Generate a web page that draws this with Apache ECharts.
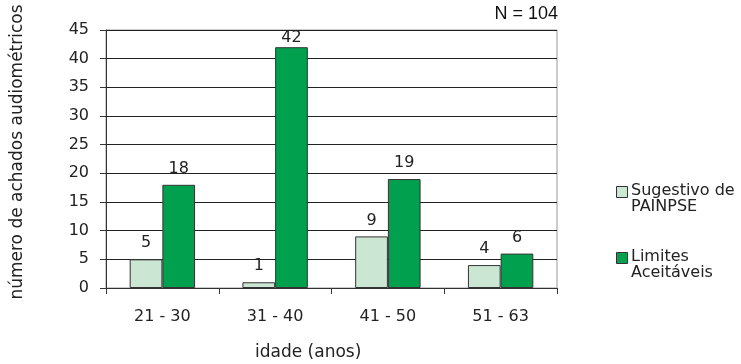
<!DOCTYPE html>
<html>
<head>
<meta charset="utf-8">
<script src="https://cdn.jsdelivr.net/npm/echarts@6/dist/echarts.min.js"></script>
<style>
  html, body { margin: 0; padding: 0; background: #fff; }
  #chart { width: 741px; height: 364px; }
</style>
</head>
<body>
<div id="chart"></div>
<script>
// Age groups and counts of audiometric findings per group
const faixas = ['21 - 30', '31 - 40', '41 - 50', '51 - 63'];
const sugestivo = [5, 1, 9, 4];
const aceitaveis = [18, 42, 19, 6];
const yTicks = [0, 5, 10, 15, 20, 25, 30, 35, 40, 45];
const serieNomes = ['Sugestivo de\nPAINPSE', 'Limites\nAceitáveis'];
const cores = ['#cce6d4', '#00a04e'];

const fonte = '"DejaVu Sans", Verdana, sans-serif';
const yMax = yTicks[yTicks.length - 1];
const chart = echarts.init(document.getElementById('chart'), null, { renderer: 'canvas' });

// Labels near the top of the plot sit closer to their bar so they stay inside
const barSerie = (i, data) => ({
  name: serieNomes[i],
  type: 'bar',
  data: data.map(v => (v > yMax - 5 ? { value: v, label: { distance: 1 } } : v)),
  barGap: '0%',
  barCategoryGap: '42%',
  itemStyle: { color: cores[i], borderColor: '#333', borderWidth: 1 },
  label: {
    show: true, position: 'top', distance: 8,
    fontFamily: fonte, fontSize: 16, color: '#222'
  }
});

// Legend entries: square swatch beside two-line text
const legendGraphics = [];
[[186, 0], [252, 1]].forEach(([y, i]) => {
  legendGraphics.push({
    type: 'rect', left: 616, top: y,
    shape: { width: 11, height: 11 },
    style: { fill: cores[i], stroke: '#333', lineWidth: 1 }
  });
  legendGraphics.push({
    type: 'text', left: 631, top: y - 3,
    style: { text: serieNomes[i], font: '16px ' + fonte, fill: '#222', lineHeight: 16 }
  });
});

chart.setOption({
  animation: false,
  backgroundColor: '#fff',
  grid: {
    left: 106, right: 184, top: 30, bottom: 76,
    show: true, borderColor: '#999', borderWidth: 1
  },
  xAxis: {
    type: 'category',
    data: faixas,
    axisLine: { lineStyle: { color: '#333', width: 1 } },
    axisTick: { show: true, length: 6, lineStyle: { color: '#333' } },
    axisLabel: { margin: 21, fontFamily: fonte, fontSize: 16, color: '#222' }
  },
  yAxis: {
    type: 'value',
    min: yTicks[0], max: yMax, interval: 5,
    axisLine: { show: true, lineStyle: { color: '#333', width: 1 } },
    axisTick: { show: true, length: 6, lineStyle: { color: '#333' } },
    axisLabel: { margin: 17, fontFamily: fonte, fontSize: 16, color: '#222' },
    splitLine: { show: true, lineStyle: { color: '#222', width: 1 } }
  },
  series: [barSerie(0, sugestivo), barSerie(1, aceitaveis)],
  graphic: [
    {
      type: 'text', x: 18, y: 152, rotation: Math.PI / 2,
      style: {
        text: 'número de achados audiométricos', font: '17px ' + fonte, fill: '#222',
        align: 'center', verticalAlign: 'middle'
      }
    },
    {
      type: 'text', left: 255, top: 344,
      style: { text: 'idade (anos)', font: '17px ' + fonte, fill: '#222' }
    },
    {
      type: 'text', right: 183, top: 5,
      style: { text: 'N = 104', font: '18px "Liberation Sans", Arial, sans-serif', fill: '#111' }
    }
  ].concat(legendGraphics)
});
</script>
</body>
</html>
